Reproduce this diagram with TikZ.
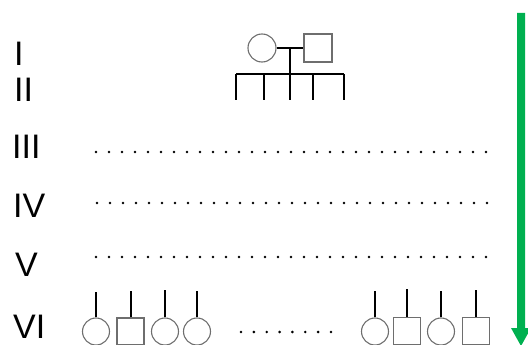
\documentclass[tikz,border=0pt]{standalone}
\usepackage{fontspec}
\setmainfont{Liberation Sans}
\usetikzlibrary{arrows.meta}
\definecolor{arrowgreen}{RGB}{0,176,80}
\definecolor{shapegray}{RGB}{110,110,110}
\tikzset{
  gen/.style={anchor=base west,inner sep=0pt,font=\fontsize{34}{34}\selectfont},
  fem/.style={circle,draw=shapegray,line width=1.1pt,minimum size=27pt,inner sep=0pt},
  mal/.style={rectangle,draw=shapegray,line width=1.1pt,minimum size=27pt,inner sep=0pt},
  link/.style={line width=2pt,black},
  dotrow/.style={line width=2.9pt,line cap=round,dash pattern=on 0pt off #1,black},
  dotrow/.default=13pt
}
\begin{document}
\begin{tikzpicture}[x=1pt,y=-1pt]
\useasboundingbox (0,0) rectangle (528,345);
\clip (0,0) rectangle (528,345);
% generation labels
\node[gen] (gI) at (14,66) {I};
\node[gen] (gII) at (14,102) {II};
\node[gen] (gIII) at (12,158) {III};
\node[gen] (gIV) at (13,217) {IV};
\node[gen] (gV) at (15,276) {V};
\node[gen] (gVI) at (13,338) {VI};
% parents
\node[fem,minimum size=28pt] (mother) at (262,48) {};
\node[mal,minimum size=28pt] (father) at (318,48) {};
\draw[link] (mother) -- (father);
\coordinate (mid) at (290,48);
\coordinate (sib) at (290,74);
\draw[link] (mid) -- (sib);
\coordinate (sL) at (236,74);
\coordinate (sR) at (344,74);
\draw[link] (sL) -- (sR);
\foreach \x [count=\i] in {236,264,290,313,344}{
  \coordinate (ct\i) at (\x,74);
  \coordinate (cb\i) at (\x,100);
  \draw[link] (ct\i) -- (cb\i);
}
% dotted rows
\coordinate (d3a) at (96,152); \coordinate (d3b) at (492,152);
\coordinate (d4a) at (97,203); \coordinate (d4b) at (493,203);
\coordinate (d5a) at (96,257); \coordinate (d5b) at (492,257);
\draw[dotrow] (d3a) -- (d3b);
\draw[dotrow] (d4a) -- (d4b);
\draw[dotrow] (d5a) -- (d5b);
\coordinate (d6a) at (241,332); \coordinate (d6b) at (333,332);
\draw[dotrow=12.85pt] (d6a) -- (d6b);
% generation VI
\node[fem] (c1) at (96,331.5) {};
\node[mal] (c2) at (130.5,331.5) {};
\node[fem] (c3) at (165,331.5) {};
\node[fem] (c4) at (197,331.5) {};
\node[fem] (c5) at (375,331.5) {};
\node[mal] (c6) at (407,331) {};
\node[fem] (c7) at (441,331.5) {};
\node[mal] (c8) at (476,331) {};
\foreach \n/\t in {c1/292,c2/291,c3/290,c4/291,c5/291,c6/289,c7/291,c8/290}{
  \coordinate (\n top) at (\n.north |- 0,\t);
  \draw[link] (\n.north) -- (\n top);
}
% green arrow
\draw[draw=none,fill=arrowgreen]
  (517,13) -- (525,13) -- (525,328) -- (531,328) -- (521,346) -- (511,328) -- (517,328) -- cycle;
\end{tikzpicture}
\end{document}
